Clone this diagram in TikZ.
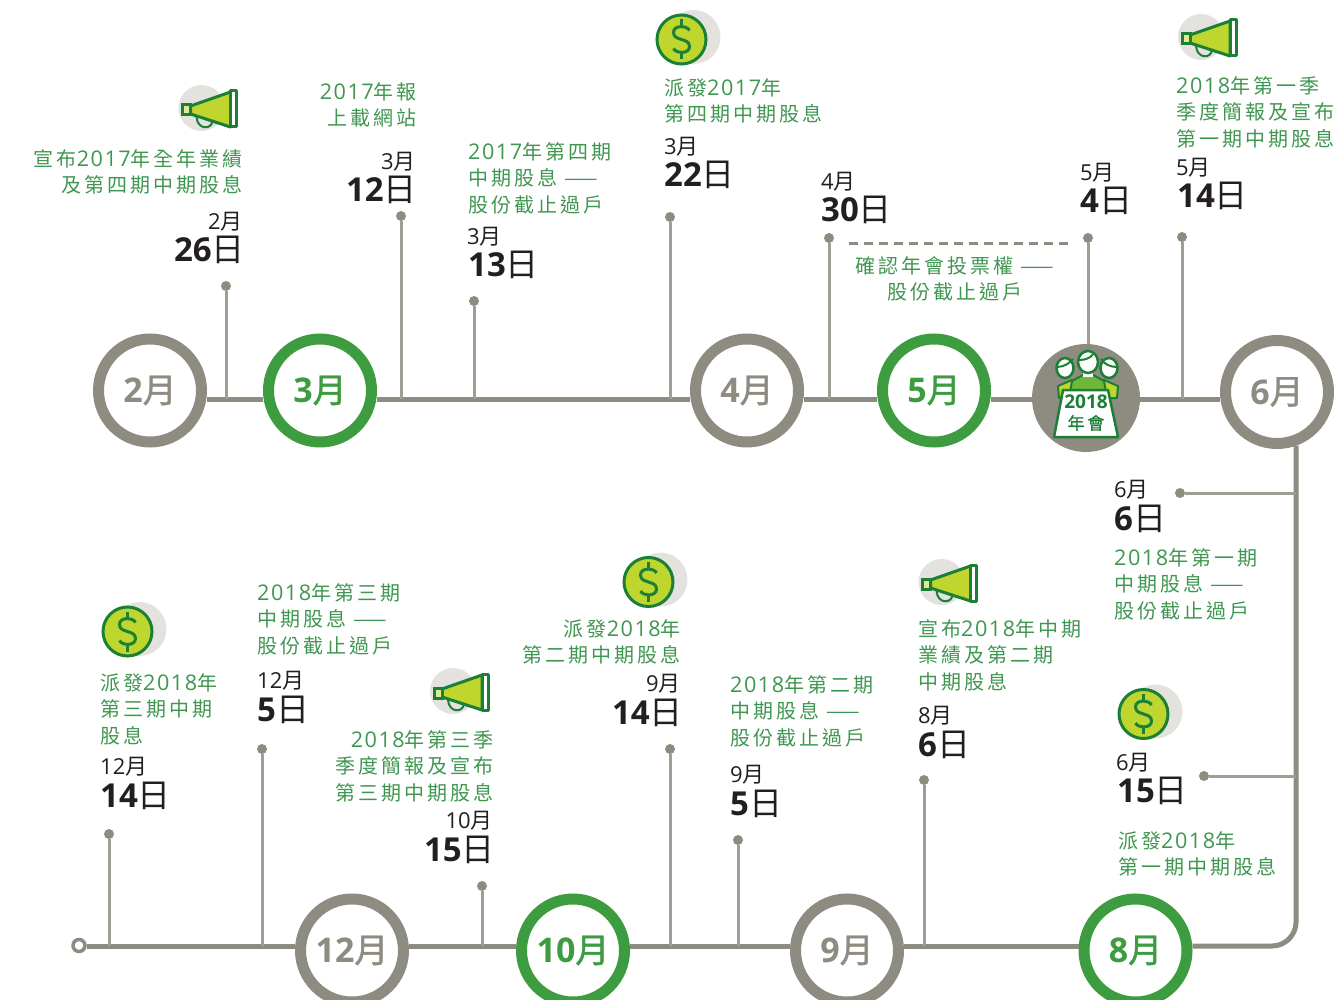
\documentclass[tikz,border=0pt]{standalone}
\usepackage{fontspec}
\setmainfont[LetterSpace=15]{Noto Sans CJK TC}
\newfontfamily\plaincjk{Noto Sans CJK TC}
\newfontfamily\ringcjk[FakeBold=1.2]{Noto Sans CJK TC}
\newfontfamily\latinfont[LetterSpace=7,Scale=1.08]{Open Sans}
\newfontfamily\plainlatin{Open Sans}
\newcommand{\dg}[1]{{\latinfont #1}}
\newcommand{\pd}[1]{{\plainlatin #1}}
\newcommand{\bd}[1]{{\plainlatin\bfseries #1}}
\usetikzlibrary{positioning,calc}
\definecolor{railgray}{HTML}{8E8B81}
\definecolor{stemgray}{HTML}{A09D94}
\definecolor{ringgreen}{HTML}{3C9C3F}
\definecolor{textgreen}{HTML}{3F9650}
\definecolor{icongreen}{HTML}{1C7F36}
\definecolor{limefill}{HTML}{BFD62F}
\definecolor{midgreen}{HTML}{6DB83A}
\definecolor{shadegray}{HTML}{E3E2DF}
\definecolor{inkblack}{HTML}{231F20}
\tikzset{
    spine/.style={draw=railgray, line width=5pt},
    stem/.style={draw=stemgray, line width=3pt},
    stemdot/.style={circle, fill=railgray, inner sep=0pt, minimum size=10pt},
    monthgray/.style={circle, draw=railgray, fill=white, line width=11pt, minimum size=103pt, inner sep=0pt,
        text=railgray, font=\ringcjk\fontsize{34}{34}\selectfont},
    monthgreen/.style={monthgray, draw=ringgreen, text=ringgreen},
    note/.style={text=textgreen, inner sep=0pt, font=\fontsize{20}{26.6}\selectfont},
    noteleft/.style={note, anchor=north west, align=left},
    noteright/.style={note, anchor=north east, align=right},
    monthtext/.style={text=inkblack, inner sep=0pt, font=\plaincjk\fontsize{22}{24}\selectfont},
    daytext/.style={text=inkblack, inner sep=0pt, font=\plaincjk\fontsize{33}{34}\selectfont},
    horn/.pic={
        \fill[shadegray] (0,0) circle (23);
        \draw[icongreen, line width=2pt] (-5,9) .. controls (-4,22) and (10,22) .. (11,13);
        \filldraw[draw=icongreen, fill=limefill, line width=3pt, line join=round] (-11,-2) -- (29,-16) -- (29,19) -- (-11,6) -- cycle;
        \filldraw[draw=icongreen, fill=limefill!50!white, line width=3pt] (-19,-3) rectangle (-11,7);
        \filldraw[draw=icongreen, fill=white, line width=3pt, line join=round] (29,-17) rectangle (35,19);
    },
    coin/.pic={
        \fill[shadegray] (12,-2.5) circle (27);
        \filldraw[draw=icongreen, fill=limefill, line width=3pt] (0,0) circle (24.5);
        \draw[icongreen, line width=3pt] (8,-9) .. controls (6,-14) and (-8,-15) .. (-8,-7) .. controls (-8,2) and (8,-2) .. (8,7) .. controls (8,15) and (-6,14) .. (-8,9);
        \draw[icongreen, line width=3pt] (0,-20) -- (0,-14) (0,14) -- (0,20);
    },
}
\begin{document}
\begin{tikzpicture}[x=1pt, y=-1pt]
    \useasboundingbox (0,0) rectangle (1339,1000);
    \coordinate (topline) at (0,399);
    \coordinate (botline) at (0,946);
    \coordinate (rail) at (1296,0);

    % month rings, upper row
    \node[monthgray] (m2) at (150,390.5) {\bd{2}月};
    \node[monthgreen] (m3) at (320,390.5) {\bd{3}月};
    \node[monthgray] (m4) at (747,390.5) {\bd{4}月};
    \node[monthgreen] (m5) at (934,390.5) {\bd{5}月};
    \node[circle, fill=railgray, minimum size=108pt, inner sep=0pt] (agm) at (1086,398) {};
    \node[monthgray] (m6) at (1277,392) {\bd{6}月};

    % month rings, lower row
    \node[monthgray] (m12) at (352,950.5) {\bd{12}月};
    \node[monthgreen] (m10) at (573,950.5) {\bd{10}月};
    \node[monthgray] (m9) at (847,950.5) {\bd{9}月};
    \node[monthgreen] (m8) at (1135.5,950.5) {\bd{8}月};
    \node[circle, draw=railgray, fill=white, line width=3.5pt, minimum size=12pt, inner sep=0pt] (start) at (79,945.5) {};

    % rail
    \draw[spine] (m2.east |- topline) -- (m3.west |- topline);
    \draw[spine] (m3.east |- topline) -- (m4.west |- topline);
    \draw[spine] (m4.east |- topline) -- (m5.west |- topline);
    \draw[spine] (m5.east |- topline) -- (agm.west |- topline);
    \draw[spine] (agm.east |- topline) -- (m6.west |- topline);
    \draw[spine, rounded corners=24pt] (m6.-70 -| rail) -- (rail |- botline) -- (m8.east |- botline);
    \draw[spine] (m8.west |- botline) -- (m9.east |- botline);
    \draw[spine] (m9.west |- botline) -- (m10.east |- botline);
    \draw[spine] (m10.west |- botline) -- (m12.east |- botline);
    \draw[spine] (m12.west |- botline) -- (start.east |- botline);

    % stems, upper row
    \node[stemdot] (p1) at (226,286) {};
    \node[stemdot] (p2) at (401,216) {};
    \node[stemdot] (p3) at (474,301) {};
    \node[stemdot] (p4) at (670,217) {};
    \node[stemdot] (p5) at (829,238) {};
    \node[stemdot] (p6) at (1088,238) {};
    \node[stemdot] (p7) at (1182,237) {};
    \draw[stem] (p1) -- (p1 |- topline);
    \draw[stem] (p2) -- (p2 |- topline);
    \draw[stem] (p3) -- (p3 |- topline);
    \draw[stem] (p4) -- (p4 |- topline);
    \draw[stem] (p5) -- (p5 |- topline);
    \draw[stem] (p6) -- (p6 |- agm.north);
    \draw[stem] (p7) -- (p7 |- topline);

    % stems off the right rail
    \node[stemdot] (p8) at (1180,493) {};
    \node[stemdot] (p9) at (1204,776) {};
    \draw[stem] (p8) -- (p8 -| rail);
    \draw[stem] (p9) -- (p9 -| rail);

    % stems, lower row
    \node[stemdot] (p10) at (924,780) {};
    \node[stemdot] (p11) at (738,840) {};
    \node[stemdot] (p12) at (670,749) {};
    \node[stemdot] (p13) at (482,886) {};
    \node[stemdot] (p14) at (262,749) {};
    \node[stemdot] (p15) at (109,834) {};
    \draw[stem] (p10) -- (p10 |- botline);
    \draw[stem] (p11) -- (p11 |- botline);
    \draw[stem] (p12) -- (p12 |- botline);
    \draw[stem] (p13) -- (p13 |- botline);
    \draw[stem] (p14) -- (p14 |- botline);
    \draw[stem] (p15) -- (p15 |- botline);

    % dashed span in May
    \coordinate (dashfrom) at (849,243.5);
    \coordinate (dashto) at (1070,243.5);
    \draw[draw=railgray, line width=2.5pt, dash pattern=on 9pt off 6pt] (dashfrom) -- (dashto);

    % icons
    \pic at (201.5,108) {horn};
    \pic at (1201,37) {horn};
    \pic at (941.5,582) {horn};
    \pic at (453,691) {horn};
    \pic at (681.5,39.5) {coin};
    \pic at (648.5,582) {coin};
    \pic at (127.5,631.5) {coin};
    \pic at (1143.5,714) {coin};

    % annual meeting badge
    \filldraw[draw=icongreen, fill=limefill, line width=2pt, line join=round] (1059,398) -- (1058,386) -- (1072,380) -- (1104,380) -- (1118,386) -- (1117,398) -- cycle;
    \filldraw[draw=icongreen, fill=white, line width=2.5pt] (1065,368) ellipse (8.5 and 10);
    \filldraw[draw=icongreen, fill=white, line width=2.5pt] (1109,368) ellipse (8.5 and 10);
    \draw[icongreen, line width=2pt] (1057,367) .. controls (1064,367) and (1070,363) .. (1073,359);
    \draw[icongreen, line width=2pt] (1101,359) .. controls (1104,364) and (1110,367) .. (1117,367);
    \filldraw[draw=icongreen, fill=midgreen, line width=2pt, line join=round] (1070,392) -- (1072,381) -- (1083,375) -- (1093,375) -- (1104,381) -- (1106,392) -- cycle;
    \fill[white] (1083,372) rectangle (1093,377);
    \filldraw[draw=icongreen, fill=white, line width=2.5pt] (1088,362) ellipse (10 and 11);
    \draw[icongreen, line width=2pt] (1079,360) .. controls (1085,360) and (1091,358) .. (1093,354);
    \filldraw[draw=icongreen, fill=white, line width=2.5pt, line join=round] (1063,390) -- (1108,390) -- (1118,437) -- (1054,437) -- cycle;
    \node[text=icongreen, inner sep=0pt, font=\plainlatin\fontsize{19}{19}\selectfont\bfseries] (agmyear) at (1086,402) {2018};
    \node[text=icongreen, inner sep=0pt, font=\ringcjk\fontsize{17}{17}\selectfont] (agmname) at (1086,423) {年\,會};

    % notes, upper row
    \node[noteright] (n1) at (243,149) {宣布\dg{2017}年全年業績\\及第四期中期股息};
    \node[noteright] (n2) at (417,82) {\dg{2017}年報\\上載網站};
    \node[noteleft] (n3) at (468,142) {\dg{2017}年第四期\\中期股息 ——\\股份截止過戶};
    \node[noteleft] (n4) at (664,78) {派發\dg{2017}年\\第四期中期股息};
    \node[note, anchor=north, align=center] (n5) at (955,256) {確認年會投票權 ——\\股份截止過戶};
    \node[noteleft] (n6) at (1176,76) {\dg{2018}年第一季\\季度簡報及宣布\\第一期中期股息};

    % notes, right and lower row
    \node[noteleft] (n7) at (1114,548) {\dg{2018}年第一期\\中期股息 ——\\股份截止過戶};
    \node[noteleft] (n8) at (1118,831) {派發\dg{2018}年\\第一期中期股息};
    \node[noteleft] (n9) at (918,619) {宣布\dg{2018}年中期\\業績及第二期\\中期股息};
    \node[noteleft] (n10) at (730,675) {\dg{2018}年第二期\\中期股息 ——\\股份截止過戶};
    \node[noteright] (n11) at (681,619) {派發\dg{2018}年\\第二期中期股息};
    \node[noteright] (n12) at (494,730) {\dg{2018}年第三季\\季度簡報及宣布\\第三期中期股息};
    \node[noteleft] (n13) at (257,583) {\dg{2018}年第三期\\中期股息 ——\\股份截止過戶};
    \node[noteleft] (n14) at (100,673) {派發\dg{2018}年\\第三期中期\\股息};

    % dates, upper row
    \node[monthtext, anchor=east] (mo1) at (243,222) {\pd{2}月};
    \node[daytext, anchor=east] (da1) at (245,250) {\bd{26}日};
    \node[monthtext, anchor=east] (mo2) at (416,162) {\pd{3}月};
    \node[daytext, anchor=east] (da2) at (417,190) {\bd{12}日};
    \node[monthtext, anchor=west] (mo3) at (467,237) {\pd{3}月};
    \node[daytext, anchor=west] (da3) at (468,265) {\bd{13}日};
    \node[monthtext, anchor=west] (mo4) at (664,147) {\pd{3}月};
    \node[daytext, anchor=west] (da4) at (664,175) {\bd{22}日};
    \node[monthtext, anchor=west] (mo5) at (821,182) {\pd{4}月};
    \node[daytext, anchor=west] (da5) at (821,210) {\bd{30}日};
    \node[monthtext, anchor=west] (mo6) at (1080,173) {\pd{5}月};
    \node[daytext, anchor=west] (da6) at (1080,201) {\bd{4}日};
    \node[monthtext, anchor=west] (mo7) at (1176,168) {\pd{5}月};
    \node[daytext, anchor=west] (da7) at (1177,196) {\bd{14}日};

    % dates, right and lower row
    \node[monthtext, anchor=west] (mo8) at (1114,490) {\pd{6}月};
    \node[daytext, anchor=west] (da8) at (1114,519) {\bd{6}日};
    \node[monthtext, anchor=west] (mo9) at (1116,763) {\pd{6}月};
    \node[daytext, anchor=west] (da9) at (1117,791) {\bd{15}日};
    \node[monthtext, anchor=west] (mo10) at (918,716) {\pd{8}月};
    \node[daytext, anchor=west] (da10) at (918,745) {\bd{6}日};
    \node[monthtext, anchor=west] (mo11) at (730,775) {\pd{9}月};
    \node[daytext, anchor=west] (da11) at (730,804) {\bd{5}日};
    \node[monthtext, anchor=east] (mo12) at (681,684) {\pd{9}月};
    \node[daytext, anchor=east] (da12) at (683,713) {\bd{14}日};
    \node[monthtext, anchor=east] (mo13) at (493,821) {\pd{10}月};
    \node[daytext, anchor=east] (da13) at (495,850) {\bd{15}日};
    \node[monthtext, anchor=west] (mo14) at (257,681) {\pd{12}月};
    \node[daytext, anchor=west] (da14) at (257,710) {\bd{5}日};
    \node[monthtext, anchor=west] (mo15) at (100,767) {\pd{12}月};
    \node[daytext, anchor=west] (da15) at (100,796) {\bd{14}日};
\end{tikzpicture}
\end{document}
